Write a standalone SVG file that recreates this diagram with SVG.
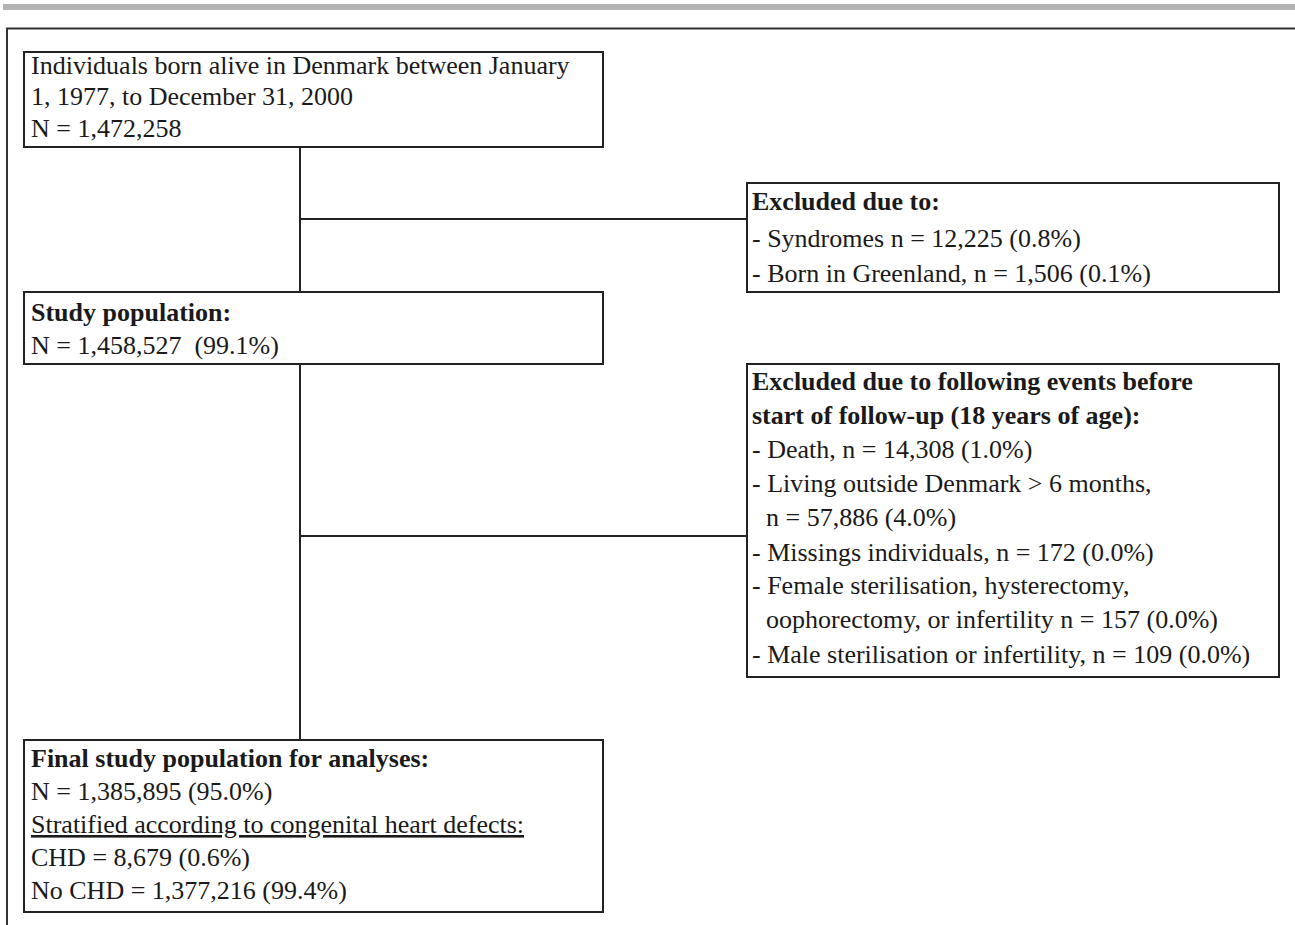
<svg xmlns="http://www.w3.org/2000/svg" width="1295" height="925" viewBox="0 0 1295 925">
<style>
.box{fill:#fff;stroke:#222;stroke-width:2}
.conn{fill:none;stroke:#222;stroke-width:2}
text{font-family:"Liberation Serif","Times New Roman",serif;font-size:26px;fill:#1a1a1a}
.b{font-weight:bold}
.u{text-decoration:underline}
</style>
<rect x="3" y="4" width="1292" height="6" fill="#b3b3b3"/>
<path d="M7,925 V28.5 H1295" fill="none" stroke="#333" stroke-width="2"/>
<g id="connectors">
<path class="conn" d="M300,147 V292"/>
<path class="conn" d="M300,219 H747"/>
<path class="conn" d="M300,364 V740"/>
<path class="conn" d="M300,536 H747"/>
</g>
<g id="born">
<rect class="box" x="24" y="52" width="579" height="95"/>
<text x="31" y="74">Individuals born alive in Denmark between January</text>
<text x="31" y="105">1, 1977, to December 31, 2000</text>
<text x="31" y="137">N = 1,472,258</text>
</g>
<g id="excluded1">
<rect class="box" x="747" y="183" width="532" height="109"/>
<text class="b" x="752" y="210">Excluded due to:</text>
<text x="752" y="247">- Syndromes n = 12,225 (0.8%)</text>
<text x="752" y="282">- Born in Greenland, n = 1,506 (0.1%)</text>
</g>
<g id="study">
<rect class="box" x="24" y="292" width="579" height="72"/>
<text class="b" x="31" y="321">Study population:</text>
<text x="31" y="354">N = 1,458,527 &#160;(99.1%)</text>
</g>
<g id="excluded2">
<rect class="box" x="747" y="364" width="532" height="313"/>
<text class="b" x="752" y="390">Excluded due to following events before</text>
<text class="b" x="752" y="424">start of follow-up (18 years of age):</text>
<text x="752" y="458">- Death, n = 14,308 (1.0%)</text>
<text x="752" y="492">- Living outside Denmark &gt; 6 months,</text>
<text x="766" y="526">n = 57,886 (4.0%)</text>
<text x="752" y="561">- Missings individuals, n = 172 (0.0%)</text>
<text x="752" y="594">- Female sterilisation, hysterectomy,</text>
<text x="766" y="628">oophorectomy, or infertility n = 157 (0.0%)</text>
<text x="752" y="663">- Male sterilisation or infertility, n = 109 (0.0%)</text>
</g>
<g id="final">
<rect class="box" x="24" y="740" width="579" height="172"/>
<text class="b" x="31" y="767">Final study population for analyses:</text>
<text x="31" y="800">N = 1,385,895 (95.0%)</text>
<text class="u" x="31" y="833">Stratified according to congenital heart defects:</text>
<text x="31" y="866">CHD = 8,679 (0.6%)</text>
<text x="31" y="899">No CHD = 1,377,216 (99.4%)</text>
</g>
</svg>
